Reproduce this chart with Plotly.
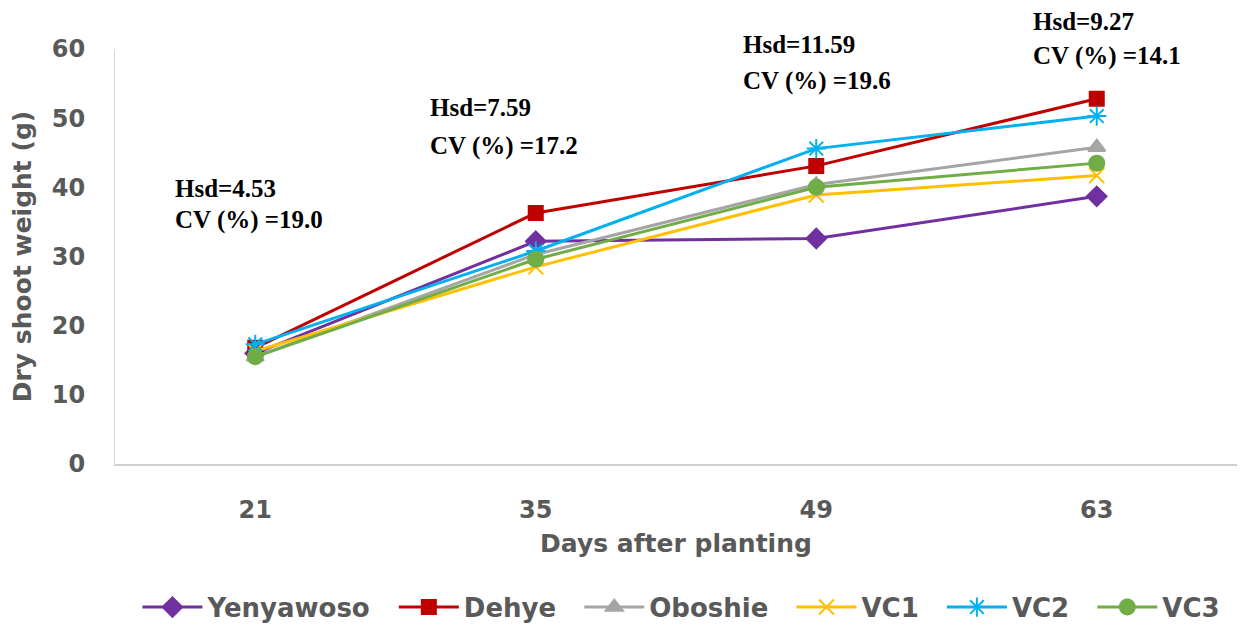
import plotly.graph_objects as go

days = ["21", "35", "49", "63"]
series_names = ["Yenyawoso", "Dehye", "Oboshie", "VC1", "VC2", "VC3"]
yenyawoso = [16.0, 32.2, 32.6, 38.7]
dehye = [16.8, 36.3, 43.1, 52.8]
oboshie = [15.5, 30.3, 40.4, 45.8]
vc1 = [16.3, 28.5, 38.9, 41.7]
vc2 = [17.3, 30.8, 45.6, 50.3]
vc3 = [15.5, 29.6, 40.0, 43.5]
hsd_labels = ["Hsd=4.53", "Hsd=7.59", "Hsd=11.59", "Hsd=9.27"]
cv_labels = ["CV (%) =19.0", "CV (%) =17.2", "CV (%) =19.6", "CV (%) =14.1"]

values = [yenyawoso, dehye, oboshie, vc1, vc2, vc3]
colors = ["#7030A0", "#C00000", "#A5A5A5", "#FFC000", "#00B0F0", "#70AD47"]
symbols = ["diamond", "square", "triangle-up", "x-thin-open", "asterisk-open", "circle"]
sizes = [15, 14, 15, 15, 16, 15]

AX_FONT = "DejaVu Sans"
GREY = "#595959"
PAD = "\u00a0\u00a0"

fig = go.Figure()
for name, vals, c, s, sz in zip(series_names, values, colors, symbols, sizes):
    fig.add_trace(go.Scatter(
        x=days, y=vals, name=name + PAD, mode="lines+markers",
        line=dict(color=c, width=3),
        marker=dict(symbol=s, size=sz, color=c, line=dict(color=c, width=2)),
    ))

ann_pos = [(0.0517, 0.665, 0.588), (0.279, 0.858, 0.766), (0.558, 1.010, 0.923), (0.816, 1.066, 0.983)]
annots = []
for (xp, y1, y2), h, cv in zip(ann_pos, hsd_labels, cv_labels):
    for yy, t in ((y1, h), (y2, cv)):
        annots.append(dict(x=xp, y=yy, xref="paper", yref="paper", text=t, showarrow=False,
                           xanchor="left", yanchor="middle",
                           font=dict(family="Liberation Serif", size=25, color="#000000", weight="bold")))

fig.update_layout(
    width=1251, height=618,
    margin=dict(l=107, r=22, t=41, b=162, autoexpand=False),
    plot_bgcolor="white", paper_bgcolor="white",
    annotations=annots,
    showlegend=True,
    legend=dict(orientation="h", x=0.02, xanchor="left", y=-0.345, yanchor="middle",
                font=dict(family=AX_FONT, size=26, color=GREY, weight="bold"),
                itemwidth=60, traceorder="normal"),
    xaxis=dict(
        type="category", range=[-0.5, 3.5], automargin=False,
        showline=True, linecolor="#D0D0D0", linewidth=2, showgrid=False, zeroline=False,
        ticks="", ticklabelstandoff=23,
        tickfont=dict(family=AX_FONT, size=24, color=GREY, weight="bold"),
        title=dict(text="Days after planting", standoff=12,
                   font=dict(family=AX_FONT, size=25, color=GREY, weight="bold")),
    ),
    yaxis=dict(
        range=[0, 60], dtick=10, automargin=False,
        showline=True, linecolor="#D9D9D9", linewidth=1, showgrid=False, zeroline=False,
        ticks="", ticklabelstandoff=24,
        tickfont=dict(family=AX_FONT, size=24, color=GREY, weight="bold"),
        title=dict(text="Dry shoot weight (g)", standoff=14,
                   font=dict(family=AX_FONT, size=25, color=GREY, weight="bold")),
    ),
)

fig.write_html("out.html")
